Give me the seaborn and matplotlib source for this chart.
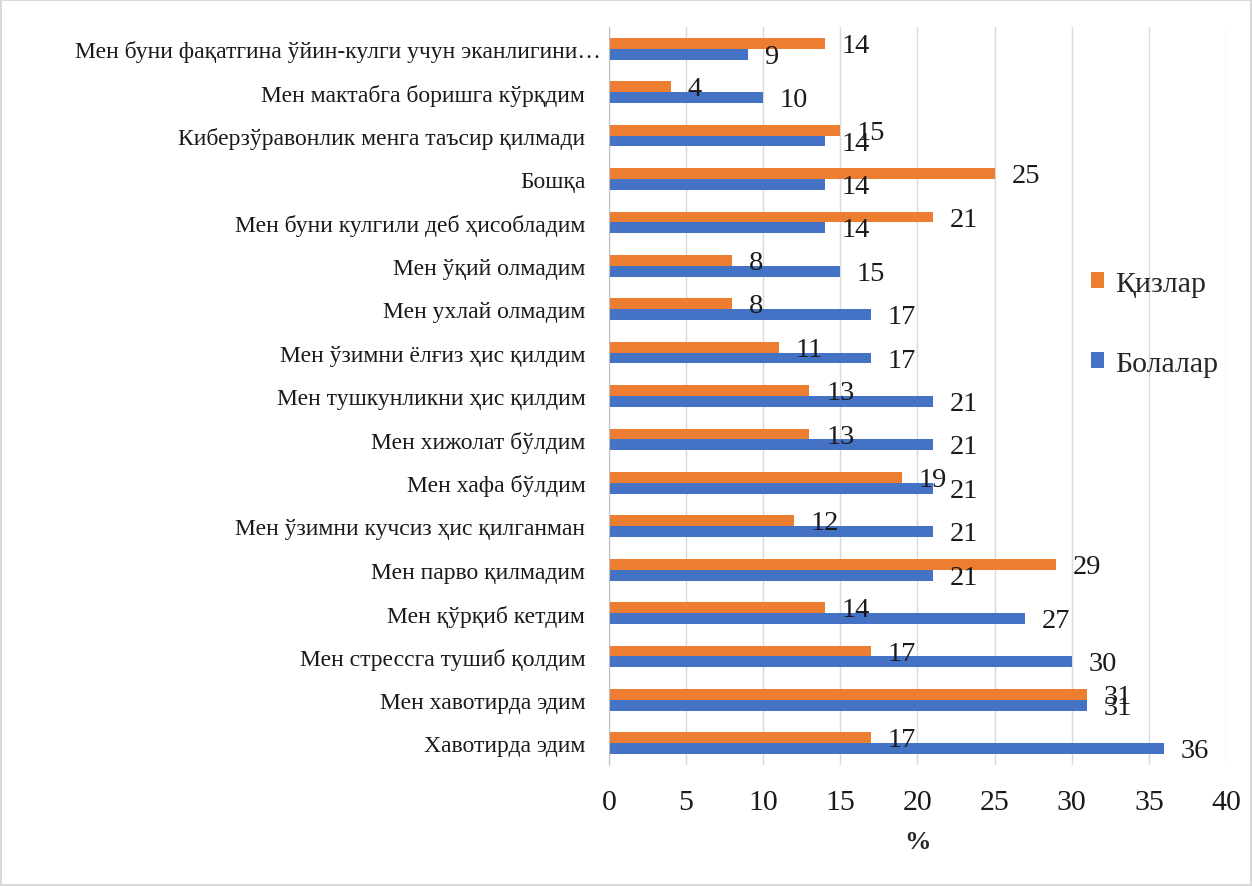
import pandas as pd
import matplotlib.pyplot as plt
import matplotlib.transforms as mtransforms
import seaborn as sns

# Жавоблар (юқоридан пастга)
categories = [
    "Мен буни фақатгина ўйин-кулги учун эканлигини…",
    "Мен мактабга боришга кўрқдим",
    "Киберзўравонлик менга таъсир қилмади",
    "Бошқа",
    "Мен буни кулгили деб ҳисобладим",
    "Мен ўқий олмадим",
    "Мен ухлай олмадим",
    "Мен ўзимни ёлғиз ҳис қилдим",
    "Мен тушкунликни ҳис қилдим",
    "Мен хижолат бўлдим",
    "Мен хафа бўлдим",
    "Мен ўзимни кучсиз ҳис қилганман",
    "Мен парво қилмадим",
    "Мен қўрқиб кетдим",
    "Мен стрессга тушиб қолдим",
    "Мен хавотирда эдим",
    "Хавотирда эдим",
]
qizlar = [14, 4, 15, 25, 21, 8, 8, 11, 13, 13, 19, 12, 29, 14, 17, 31, 17]
bolalar = [9, 10, 14, 14, 14, 15, 17, 17, 21, 21, 21, 21, 21, 27, 30, 31, 36]
groups = ["Қизлар", "Болалар"]
palette = {"Қизлар": "#ED7D31", "Болалар": "#4472C4"}
xticks = [0, 5, 10, 15, 20, 25, 30, 35, 40]

df = pd.DataFrame({
    "javob": categories * 2,
    "guruh": [groups[0]] * len(categories) + [groups[1]] * len(categories),
    "foiz": qizlar + bolalar,
})

sns.set_style("white")
plt.rcParams['font.family'] = ['Liberation Serif', 'DejaVu Serif']

fig = plt.figure(figsize=(12.52, 8.87), dpi=100)
fig.patch.set_edgecolor("#D9D9D9")
fig.patch.set_linewidth(1.5)
ax = fig.add_axes([0.4864, 0.1364, 0.4928, 0.832])

sns.barplot(data=df, x="foiz", y="javob", hue="guruh", order=categories,
            hue_order=groups, palette=palette, orient="h", width=0.5,
            saturation=1, linewidth=0, ax=ax)

# 🏷️ Қийматлар – устун охирида, бир оз пастроқда
for cont in ax.containers:
    for bar in cont:
        w = bar.get_width()
        yc = bar.get_y() + bar.get_height() / 2
        ax.annotate(f"{w:.0f}", (w, yc), xytext=(12, -1.5),
                    textcoords="offset points", ha="left", va="center",
                    fontsize=20.5, color="#1a1a1a")

ax.set_xlim(0, 40)
ax.set_xticks(xticks)
ax.grid(axis="x", color="#D9D9D9", linewidth=1)
ax.set_axisbelow(True)
for s in ["top", "right", "bottom"]:
    ax.spines[s].set_visible(False)
ax.spines["left"].set_color("#BFBFBF")
ax.tick_params(axis="x", length=0, pad=17, labelsize=21.5, labelcolor="#1a1a1a")
ax.tick_params(axis="y", length=0, pad=17, labelsize=17, labelcolor="#1a1a1a")
ax.set_ylabel("")
ax.set_xlabel("%", fontsize=19, fontweight="bold", labelpad=11)

# Қисқартирилган биринчи ёрлиқ ўққа яқинроқ туради
first = ax.get_yticklabels()[0]
first.set_transform(first.get_transform() +
                    mtransforms.ScaledTranslation(0.16, 0, fig.dpi_scale_trans))

leg = ax.legend(loc="upper left", bbox_to_anchor=(1091 / 1252, 1 - 272 / 887),
                bbox_transform=fig.transFigure, frameon=False, fontsize=21.5,
                handlelength=0.45, handleheight=0.45, handletextpad=0.35,
                labelspacing=1.8, borderpad=0, borderaxespad=0)

plt.savefig("out.png", dpi=100)
plt.close()
